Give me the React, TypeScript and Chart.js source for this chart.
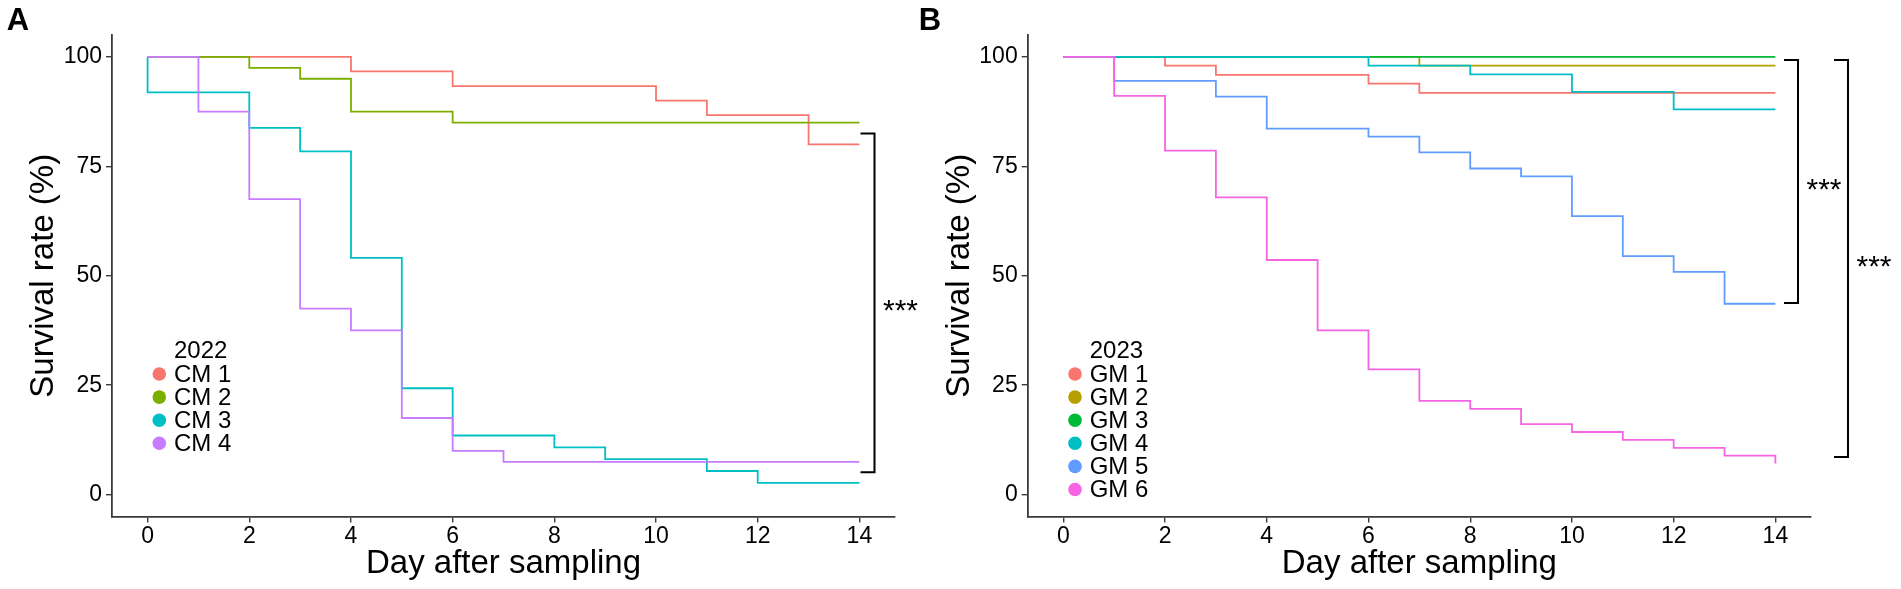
import React, { useEffect, useRef } from "react";
import { Chart, registerables } from "chart.js";

Chart.register(...registerables);

// ---------- data ----------
const dayTicks = [0, 2, 4, 6, 8, 10, 12, 14];
const survivalTicks = [0, 25, 50, 75, 100];

const cmTitle = "2022";
const cmNames = ["CM 1", "CM 2", "CM 3", "CM 4"];
const cmColors = ["#F8766D", "#7CAE00", "#00BFC4", "#C77CFF"];
const cm1Days = [0, 4, 6, 10, 11, 13, 14];
const cm1Surv = [100, 96.7, 93.3, 90, 86.7, 80, 80];
const cm2Days = [0, 2, 3, 4, 6, 14];
const cm2Surv = [100, 97.5, 95, 87.5, 85, 85];
const cm3Days = [0, 0, 2, 3, 4, 5, 6, 8, 9, 11, 12, 14];
const cm3Surv = [100, 91.9, 83.8, 78.4, 54.1, 24.3, 13.5, 10.8, 8.1, 5.4, 2.7, 2.7];
const cm4Days = [0, 1, 2, 3, 4, 5, 6, 7, 14];
const cm4Surv = [100, 87.5, 67.5, 42.5, 37.5, 17.5, 10, 7.5, 7.5];

const gmTitle = "2023";
const gmNames = ["GM 1", "GM 2", "GM 3", "GM 4", "GM 5", "GM 6"];
const gmColors = ["#F8766D", "#B79F00", "#00BA38", "#00BFC4", "#619CFF", "#F564E3"];
const gm1Days = [0, 2, 3, 6, 7, 14];
const gm1Surv = [100, 98, 95.9, 93.9, 91.8, 91.8];
const gm2Days = [0, 7, 14];
const gm2Surv = [100, 98, 98];
const gm3Days = [0, 14];
const gm3Surv = [100, 100];
const gm4Days = [0, 6, 8, 10, 12, 14];
const gm4Surv = [100, 98, 96, 92, 88, 88];
const gm5Days = [0, 1, 3, 4, 6, 7, 8, 9, 10, 11, 12, 13, 14];
const gm5Surv = [100, 94.5, 90.9, 83.6, 81.8, 78.2, 74.5, 72.7, 63.6, 54.5, 50.9, 43.6, 43.6];
const gm6Days = [0, 1, 2, 3, 4, 5, 6, 7, 8, 9, 10, 11, 12, 13, 14];
const gm6Surv = [100, 91.1, 78.6, 67.9, 53.6, 37.5, 28.6, 21.4, 19.6, 16.1, 14.3, 12.5, 10.7, 8.9, 7.1];

// significance brackets (survival values of bracket ends)
const bracketsA = [{ top: 82.5, bottom: 5.1, label: "***" }];
const bracketsB = [
  { top: 99.3, bottom: 43.8, label: "***" },
  { top: 99.3, bottom: 8.6, label: "***" },
];

// ---------- styling ----------
const FONT = "'Liberation Sans', Arial, Helvetica, sans-serif";
const AXIS = "#3a3a3a";

type Panel = {
  left: number;
  width: number;
  padLeft: number;
  padRight: number;
  letter: string;
  letterX: number;
  legendTitle: string;
  names: string[];
  colors: string[];
  series: [number[], number[]][];
  brackets: { top: number; bottom: number; label: string }[];
  bracketDx: number[];
};

const panels: Panel[] = [
  {
    left: 0,
    width: 930,
    padLeft: 0,
    padRight: 35,
    letter: "A",
    letterX: 18,
    legendTitle: cmTitle,
    names: cmNames,
    colors: cmColors,
    series: [
      [cm1Days, cm1Surv],
      [cm2Days, cm2Surv],
      [cm3Days, cm3Surv],
      [cm4Days, cm4Surv],
    ],
    brackets: bracketsA,
    bracketDx: [-20.5],
  },
  {
    left: 900,
    width: 1001,
    padLeft: 15.7,
    padRight: 90,
    letter: "B",
    letterX: 30,
    legendTitle: gmTitle,
    names: gmNames,
    colors: gmColors,
    series: [
      [gm1Days, gm1Surv],
      [gm2Days, gm2Surv],
      [gm3Days, gm3Surv],
      [gm4Days, gm4Surv],
      [gm5Days, gm5Surv],
      [gm6Days, gm6Surv],
    ],
    brackets: bracketsB,
    bracketDx: [-13, 37],
  },
];

function PanelChart({ p }: { p: Panel }) {
  const ref = useRef<HTMLCanvasElement | null>(null);

  useEffect(() => {
    if (!ref.current) return;

    const overlay = {
      id: "overlay",
      afterDraw(chart: any) {
        const ctx = chart.ctx as CanvasRenderingContext2D;
        const area = chart.chartArea;
        const yScale = chart.scales.y;
        ctx.save();

        // panel letter
        ctx.fillStyle = "#000";
        ctx.font = `bold 31px ${FONT}`;
        ctx.textAlign = "center";
        ctx.textBaseline = "middle";
        ctx.fillText(p.letter, p.letterX, 21);

        // legend
        ctx.font = `24px ${FONT}`;
        ctx.textAlign = "left";
        ctx.textBaseline = "middle";
        ctx.fillStyle = "#000";
        ctx.fillText(p.legendTitle, area.left + 62, 351);
        p.names.forEach((n, i) => {
          const y = 374 + i * 23.1;
          ctx.beginPath();
          ctx.fillStyle = p.colors[i];
          ctx.arc(area.left + 47.3, y, 6.8, 0, Math.PI * 2);
          ctx.fill();
          ctx.fillStyle = "#000";
          ctx.fillText(n, area.left + 62, y + 1);
        });

        // brackets
        p.brackets.forEach((b, i) => {
          const x = area.right + p.bracketDx[i];
          const y1 = yScale.getPixelForValue(b.top);
          const y2 = yScale.getPixelForValue(b.bottom);
          ctx.beginPath();
          ctx.strokeStyle = "#000";
          ctx.lineWidth = 2;
          ctx.moveTo(x - 14, y1);
          ctx.lineTo(x, y1);
          ctx.lineTo(x, y2);
          ctx.lineTo(x - 14, y2);
          ctx.stroke();
          ctx.font = `30px ${FONT}`;
          ctx.textAlign = "center";
          ctx.textBaseline = "alphabetic";
          ctx.fillStyle = "#000";
          ctx.fillText(b.label, x + 26, (y1 + y2) / 2 + 0.58 * 30);
        });
        ctx.restore();
      },
    };

    const chart = new Chart(ref.current, {
      type: "line",
      data: {
        datasets: p.series.map(([days, surv], i) => ({
          label: p.names[i],
          data: days.map((d, k) => ({ x: d, y: surv[k] })),
          borderColor: p.colors[i],
          backgroundColor: p.colors[i],
          borderWidth: 1.8,
          pointRadius: 0,
          stepped: true,
          fill: false,
          order: -i,
        })),
      },
      options: {
        animation: false,
        responsive: false,
        events: [],
        layout: { padding: { left: p.padLeft, right: p.padRight, top: 35, bottom: 0 } },
        plugins: {
          legend: { display: false },
          tooltip: { enabled: false },
          title: { display: false },
        },
        scales: {
          x: {
            type: "linear",
            min: -0.7,
            max: 14.7,
            afterBuildTicks: (s: any) => {
              s.ticks = dayTicks.map((v) => ({ value: v }));
            },
            afterFit: (s: any) => {
              s.height = 72.5;
            },
            grid: {
              display: true,
              drawOnChartArea: false,
              drawTicks: true,
              tickLength: 6,
              color: AXIS,
              lineWidth: 1.4,
            },
            border: { display: true, color: AXIS, width: 1.8 },
            ticks: {
              color: "#000",
              font: { family: FONT, size: 23 },
              padding: 0,
              maxRotation: 0,
              autoSkip: false,
            },
            title: {
              display: true,
              text: "Day after sampling",
              color: "#000",
              font: { family: FONT, size: 33 },
              padding: { top: 0, bottom: 5 },
            },
          },
          y: {
            type: "linear",
            min: -5,
            max: 105,
            afterBuildTicks: (s: any) => {
              s.ticks = survivalTicks.map((v) => ({ value: v }));
            },
            afterFit: (s: any) => {
              s.width = 112;
            },
            grid: {
              display: true,
              drawOnChartArea: false,
              drawTicks: true,
              tickLength: 6,
              color: AXIS,
              lineWidth: 1.4,
            },
            border: { display: true, color: AXIS, width: 1.8 },
            ticks: {
              color: "#000",
              font: { family: FONT, size: 23 },
              padding: 4,
              autoSkip: false,
            },
            title: {
              display: true,
              text: "Survival rate (%)",
              color: "#000",
              font: { family: FONT, size: 33 },
              padding: { top: 24, bottom: 0 },
            },
          },
        },
      } as any,
      plugins: [overlay],
    });
    return () => chart.destroy();
  }, [p]);

  return (
    <canvas
      ref={ref}
      width={p.width}
      height={589}
      style={{ position: "absolute", left: p.left, top: 0, width: p.width, height: 589 }}
    />
  );
}

export default function App() {
  return (
    <div
      style={{
        position: "fixed",
        left: 0,
        top: 0,
        width: 1901,
        height: 589,
        background: "#fff",
        overflow: "hidden",
      }}
    >
      {panels.map((p) => (
        <PanelChart key={p.letter} p={p} />
      ))}
    </div>
  );
}
